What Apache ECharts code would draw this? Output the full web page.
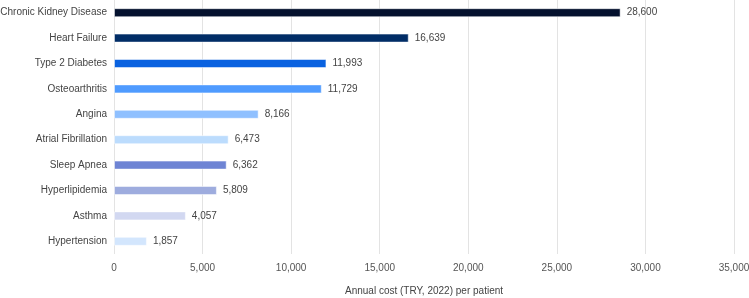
<!DOCTYPE html>
<html>
<head>
<meta charset="utf-8">
<script src="https://cdn.jsdelivr.net/npm/echarts@6/dist/echarts.min.js"></script>
<style>
  html, body { margin: 0; padding: 0; background: #fff; }
  #chart { width: 749px; height: 298px; }
</style>
</head>
<body>
<div id="chart"></div>
<script>
// data, top to bottom as shown
var categories = ['Chronic Kidney Disease', 'Heart Failure', 'Type 2 Diabetes', 'Osteoarthritis', 'Angina',
  'Atrial Fibrillation', 'Sleep Apnea', 'Hyperlipidemia', 'Asthma', 'Hypertension'];
var costs = [28600, 16639, 11993, 11729, 8166, 6473, 6362, 5809, 4057, 1857];
var barColors = ['#04112e', '#012d66', '#0a62e0', '#4f9bff', '#8fc0ff',
  '#bcdcfd', '#6e84d4', '#9eacde', '#d2d8f1', '#d3e6fd'];
var xTicks = [0, 5000, 10000, 15000, 20000, 25000, 30000, 35000];

var chart = echarts.init(document.getElementById('chart'));
var fmt = function (v) { return v.toLocaleString('en-US'); };

chart.setOption({
  animation: false,
  textStyle: { fontFamily: '"Liberation Sans", Arial, sans-serif' },
  grid: { left: 114, right: 15, top: 0, bottom: 44, containLabel: false, outerBoundsMode: 'none' },
  xAxis: {
    type: 'value',
    min: xTicks[0],
    max: xTicks[xTicks.length - 1],
    interval: 5000,
    axisLine: { show: false },
    axisTick: { show: false },
    splitLine: { lineStyle: { color: '#e3e3e3' } },
    axisLabel: { color: '#555', fontSize: 10, margin: 9, formatter: fmt },
    name: 'Annual cost (TRY, 2022) per patient',
    nameLocation: 'middle',
    nameGap: 32,
    nameTextStyle: { color: '#444', fontSize: 10 }
  },
  yAxis: {
    type: 'category',
    data: categories,
    inverse: true,
    axisLine: { show: false },
    axisTick: { show: false },
    axisLabel: { color: '#444', fontSize: 10, margin: 7 }
  },
  series: [{
    type: 'bar',
    barWidth: 9,
    data: costs.map(function (v, i) {
      return { value: v, itemStyle: { color: barColors[i], borderColor: 'rgba(255,255,255,0.5)', borderWidth: 1 } };
    }),
    label: {
      show: true,
      position: 'right',
      distance: 6,
      color: '#444',
      fontSize: 10,
      formatter: function (p) { return fmt(p.value); }
    }
  }]
});
window.onresize = function () { chart.resize(); };
</script>
</body>
</html>
